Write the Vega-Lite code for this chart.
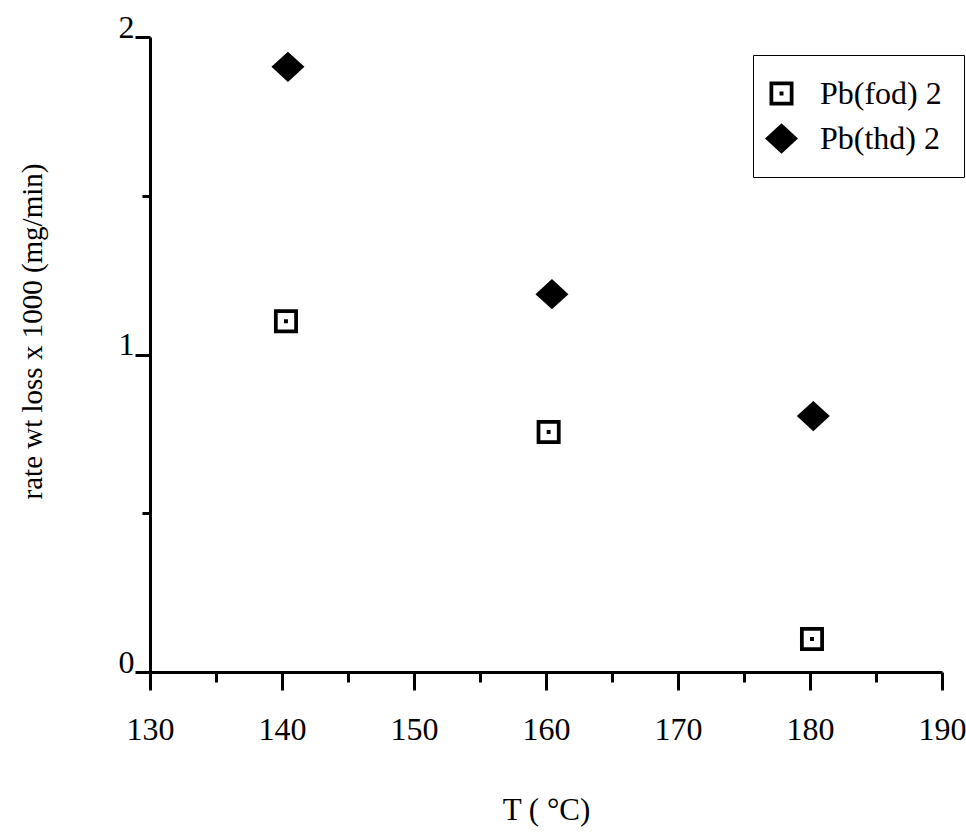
{
  "$schema": "https://vega.github.io/schema/vega-lite/v6.json",
  "width": 792,
  "height": 635,
  "autosize": {"type": "none"},
  "padding": {"left": 150, "top": 37, "right": 24, "bottom": 160},
  "background": "white",
  "config": {"view": {"stroke": null}, "font": "Liberation Serif"},
  "data": {
    "values": [
      {"compound": "Pb(fod) 2", "T": 140.3, "rate": 1.105},
      {"compound": "Pb(fod) 2", "T": 160.2, "rate": 0.756},
      {"compound": "Pb(fod) 2", "T": 180.15, "rate": 0.104},
      {"compound": "Pb(thd) 2", "T": 140.45, "rate": 1.906},
      {"compound": "Pb(thd) 2", "T": 160.45, "rate": 1.19},
      {"compound": "Pb(thd) 2", "T": 180.25, "rate": 0.806}
    ]
  },
  "mark": {"type": "point", "filled": true, "opacity": 1, "color": "black", "size": 1089, "strokeWidth": 0},
  "encoding": {
    "x": {
      "field": "T",
      "type": "quantitative",
      "scale": {"domain": [130, 190], "nice": false, "zero": false},
      "axis": {
        "values": [130, 135, 140, 145, 150, 155, 160, 165, 170, 175, 180, 185, 190],
        "labelExpr": "datum.value % 10 === 0 ? datum.label : ''",
        "grid": false,
        "domainColor": "black",
        "domainWidth": 3,
        "tickColor": "black",
        "tickWidth": 3,
        "tickSize": {"condition": {"test": "datum.value % 10 === 0", "value": 18}, "value": 10},
        "labelFontSize": 32,
        "labelFont": "Liberation Serif",
        "labelColor": "black",
        "labelPadding": 24,
        "labelFlush": false,
        "labelOverlap": false,
        "title": "T ( °C)",
        "titleFont": "Liberation Serif",
        "titleFontSize": 31,
        "titleFontWeight": "normal",
        "titleColor": "black",
        "titleBaseline": "alphabetic",
        "titleY": 147
      }
    },
    "y": {
      "field": "rate",
      "type": "quantitative",
      "scale": {"domain": [0, 2], "nice": false},
      "axis": {
        "values": [0, 0.5, 1, 1.5, 2],
        "labelExpr": "datum.value % 1 === 0 ? format(datum.value, 'd') : ''",
        "grid": false,
        "domainColor": "black",
        "domainWidth": 3,
        "tickColor": "black",
        "tickWidth": 3,
        "tickSize": {"condition": {"test": "datum.value % 1 === 0", "value": 15}, "value": 8},
        "labelFontSize": 32,
        "labelFont": "Liberation Serif",
        "labelColor": "black",
        "labelBaseline": "alphabetic",
        "labelPadding": 1,
        "labelFlush": false,
        "labelOverlap": false,
        "title": "rate wt loss x 1000 (mg/min)",
        "titleFont": "Liberation Serif",
        "titleFontSize": 29,
        "titleFontWeight": "normal",
        "titleColor": "black",
        "titleAngle": -90,
        "titleAlign": "center",
        "titleBaseline": "middle",
        "titleX": -118,
        "titleY": 294
      }
    },
    "shape": {
      "field": "compound",
      "type": "nominal",
      "scale": {
        "domain": ["Pb(fod) 2", "Pb(thd) 2"],
        "range": [
          "M-0.727,-0.727H0.727V0.727H-0.727Z M-0.5,-0.5V0.5H0.5V-0.5Z M-0.12,-0.12H0.12V0.12H-0.12Z",
          "M-1,0L0,-0.92L1,0L0,0.92Z"
        ]
      },
      "legend": {
        "title": null,
        "orient": "none",
        "legendX": 603,
        "legendY": 18,
        "strokeColor": "black",
        "fillColor": "white",
        "padding": 22,
        "symbolSize": 1089,
        "symbolFillColor": "black",
        "symbolStrokeWidth": 0,
        "symbolOffset": -10,
        "labelFontSize": 32,
        "labelFont": "Liberation Serif",
        "labelColor": "black",
        "labelOffset": 22,
        "rowPadding": 12,
        "encode": {"legend": {"update": {"strokeWidth": {"value": 3.5}}}}
      }
    }
  }
}
